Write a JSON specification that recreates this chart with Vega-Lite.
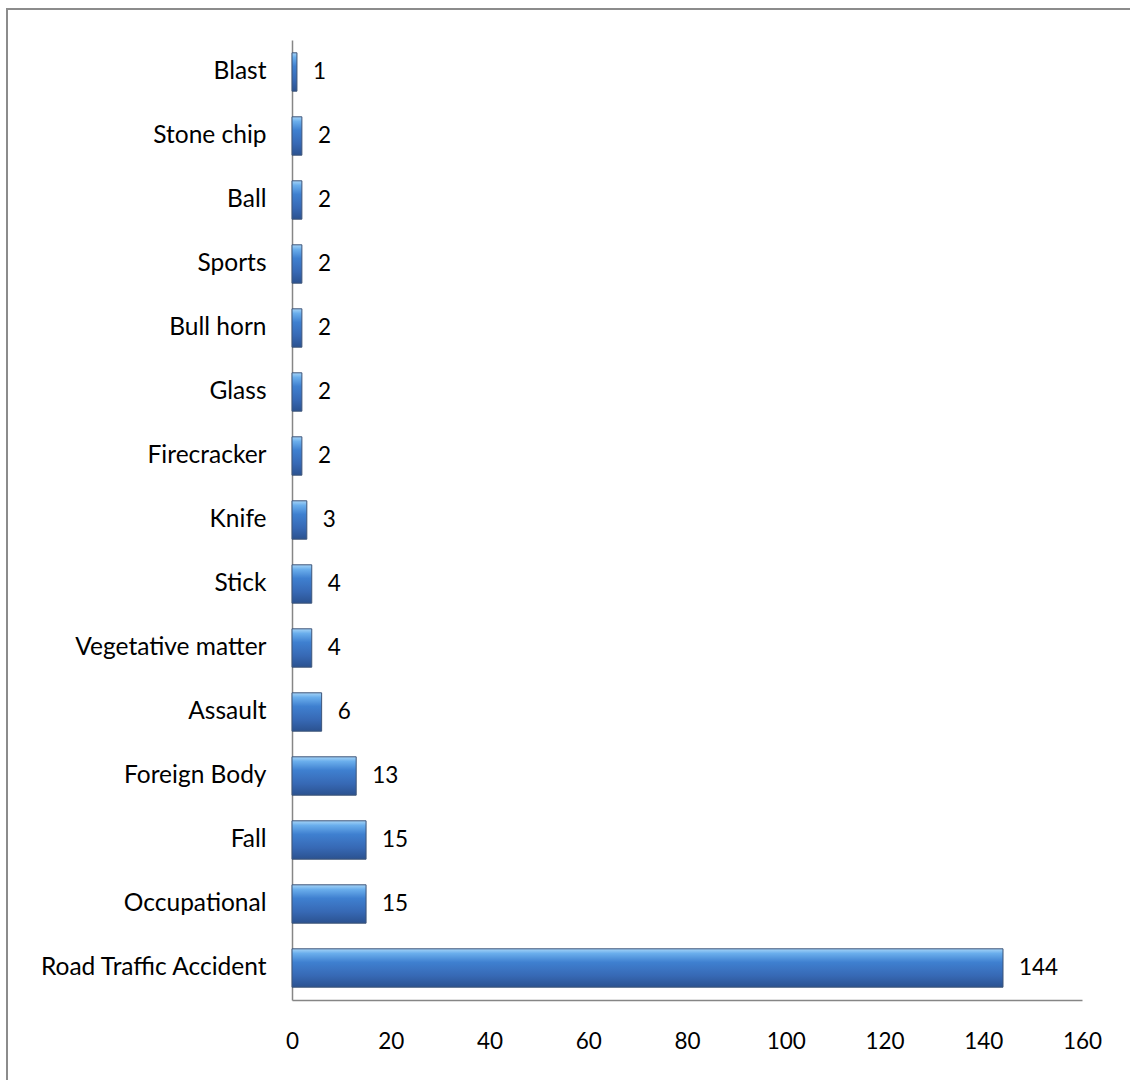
{
  "$schema": "https://vega.github.io/schema/vega-lite/v6.json",
  "autosize": {"type": "none"},
  "padding": {"left": 7, "top": 9, "right": 0, "bottom": 0},
  "width": 1126,
  "height": 1074,
  "background": "white",
  "config": {
    "view": {"stroke": "#8c8c8c", "strokeWidth": 2},
    "font": "Lato",
    "axis": {"grid": false, "ticks": false, "domainColor": "#868686", "domainWidth": 1.5, "labelFont": "Lato", "labelColor": "#000000", "title": null}
  },
  "data": {
    "values": [
      {"cause": "Blast", "count": 1},
      {"cause": "Stone chip", "count": 2},
      {"cause": "Ball", "count": 2},
      {"cause": "Sports", "count": 2},
      {"cause": "Bull horn", "count": 2},
      {"cause": "Glass", "count": 2},
      {"cause": "Firecracker", "count": 2},
      {"cause": "Knife", "count": 3},
      {"cause": "Stick", "count": 4},
      {"cause": "Vegetative matter", "count": 4},
      {"cause": "Assault", "count": 6},
      {"cause": "Foreign Body", "count": 13},
      {"cause": "Fall", "count": 15},
      {"cause": "Occupational", "count": 15},
      {"cause": "Road Traffic Accident", "count": 144}
    ]
  },
  "encoding": {
    "y": {
      "field": "cause", "type": "nominal", "sort": null,
      "scale": {"range": [31, 991], "paddingInner": 0.4, "paddingOuter": 0.2},
      "axis": {"offset": -285, "labelPadding": 26, "labelLimit": 400, "labelFontSize": 24.5}
    },
    "x": {
      "field": "count", "type": "quantitative",
      "scale": {"domain": [0, 160], "range": [285, 1075], "nice": false},
      "axis": {"offset": -83, "values": [0, 20, 40, 60, 80, 100, 120, 140, 160], "labelPadding": 30, "labelFlush": false, "labelFontSize": 22.5}
    }
  },
  "layer": [
    {
      "mark": {
        "type": "bar",
        "stroke": "#3d5478",
        "strokeWidth": 1,
        "color": {
          "gradient": "linear", "x1": 0, "y1": 0, "x2": 0, "y2": 1,
          "stops": [
            {"offset": 0, "color": "#a6d4f7"},
            {"offset": 0.12, "color": "#6aaeec"},
            {"offset": 0.35, "color": "#3f80d0"},
            {"offset": 0.7, "color": "#3769b5"},
            {"offset": 1, "color": "#2b5290"}
          ]
        }
      }
    },
    {
      "mark": {"type": "text", "align": "left", "baseline": "middle", "dx": 16, "fontSize": 22.5, "font": "Lato", "color": "#000000"},
      "encoding": {"text": {"field": "count", "type": "quantitative"}}
    }
  ]
}
